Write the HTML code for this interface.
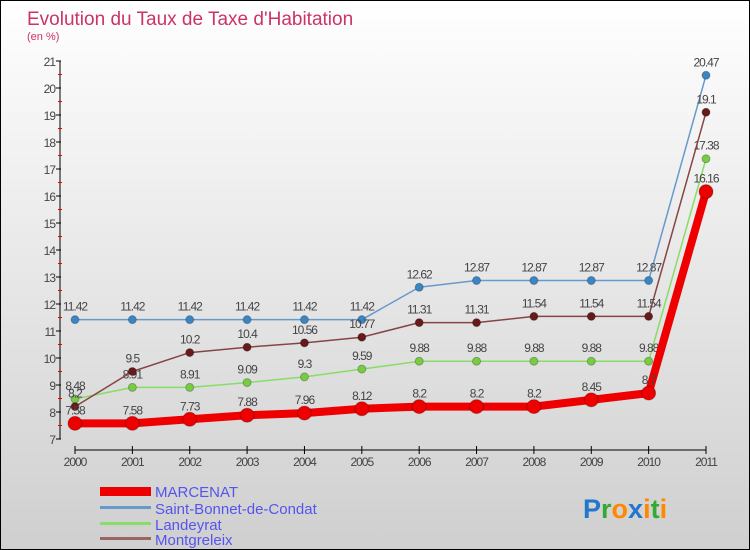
<!DOCTYPE html>
<html><head><meta charset="utf-8"><style>
body{margin:0;}
svg{display:block;font-family:"Liberation Sans",sans-serif;}
</style></head><body>
<svg width="750" height="550" xmlns="http://www.w3.org/2000/svg">
<defs><linearGradient id="bg" x1="0" y1="0" x2="0" y2="1"><stop offset="0" stop-color="#ffffff"/><stop offset="1" stop-color="#cfcfcf"/></linearGradient></defs>
<rect x="0.5" y="0.5" width="749" height="549" fill="url(#bg)" stroke="#000"/>
<text x="27" y="25" font-size="19" fill="#cc3366">Evolution du Taux de Taxe d'Habitation</text>
<text x="27" y="40" font-size="11" fill="#cc3366">(en %)</text>
<g id="axes"></g>
<g id="series"></g>
<g>
<rect x="100" y="487" width="51" height="9" fill="#ee0000"/>
<text x="155" y="497" font-size="15" fill="#5555ee">MARCENAT</text>
<rect x="100" y="506" width="51" height="3" fill="#6699cc"/>
<text x="155" y="514" font-size="15" fill="#5555ee">Saint-Bonnet-de-Condat</text>
<rect x="100" y="522" width="51" height="3" fill="#88dd66"/>
<text x="155" y="530" font-size="15" fill="#5555ee">Landeyrat</text>
<rect x="100" y="537" width="51" height="3" fill="#996666"/>
<text x="155" y="545" font-size="15" fill="#5555ee">Montgreleix</text>
</g>
<text x="583" y="518" font-size="27" font-weight="bold"><tspan fill="#2277cc">P</tspan><tspan fill="#33aa33">r</tspan><tspan fill="#ff8800">o</tspan><tspan fill="#2277cc">x</tspan><tspan fill="#ff8800">i</tspan><tspan fill="#33aa33">t</tspan><tspan fill="#ff8800">i</tspan></text>
</svg>
<script>
const years=[2000,2001,2002,2003,2004,2005,2006,2007,2008,2009,2010,2011];
const marcenat=[7.58,7.58,7.73,7.88,7.96,8.12,8.2,8.2,8.2,8.45,8.7,16.16];
const saintBonnet=[11.42,11.42,11.42,11.42,11.42,11.42,12.62,12.87,12.87,12.87,12.87,20.47];
const landeyrat=[8.48,8.91,8.91,9.09,9.3,9.59,9.88,9.88,9.88,9.88,9.88,17.38];
const montgreleix=[8.2,9.5,10.2,10.4,10.56,10.77,11.31,11.31,11.54,11.54,11.54,19.1];
const yTicks=[7,8,9,10,11,12,13,14,15,16,17,18,19,20,21];
const NS="http://www.w3.org/2000/svg";
const X=i=>75+i*(706-75)/11;
const Y=v=>439-(v-7)*27;
function mk(t,a,p){const e=document.createElementNS(NS,t);for(const k in a)e.setAttribute(k,a[k]);p.appendChild(e);return e;}
const ax=document.getElementById('axes');
const yl=mk('line',{x1:60,y1:Y(21),x2:60,y2:Y(7),stroke:'#000'},ax);


yTicks.forEach(v=>{
 const l=mk('line',{x1:56,y1:Y(v),x2:61,y2:Y(v),stroke:'#000'},ax);
 
 
 if(v<21){const m=mk('line',{x1:58,y1:Y(v+0.5),x2:62,y2:Y(v+0.5),stroke:'#ee0000'},ax);
 
 }
 const t=mk('text',{x:55,y:Y(v)+5,'font-size':12,'text-anchor':'end',fill:'#444','letter-spacing':'-1'},ax);
 t.textContent=v;
 
 
});
const xl=mk('line',{x1:X(0),y1:450,x2:X(11),y2:450,stroke:'#000'},ax);


years.forEach((y,i)=>{
 const l=mk('line',{x1:X(i),y1:446,x2:X(i),y2:454,stroke:'#000'},ax);
 
 
 const t=mk('text',{x:X(i),y:466,'font-size':12,'text-anchor':'middle',fill:'#444','letter-spacing':'-1'},ax);
 t.textContent=y;
 
 
});
const sg=document.getElementById('series');
function draw(vals,color,w,r,name,dot){
 const g=mk('g',{},sg);
 
 
 const p=mk('polyline',{points:vals.map((v,i)=>X(i)+','+Y(v)).join(' '),fill:'none',stroke:color,'stroke-width':w,'stroke-linejoin':'round'},g);
 
 
 vals.forEach((v,i)=>{
  const c=mk('circle',{cx:X(i),cy:Y(v),r:r,fill:dot,stroke:'rgba(0,0,0,0.25)','stroke-width':1},g);
  
  
  const t=mk('text',{x:X(i),y:Y(v)-9,'font-size':12,'text-anchor':'middle',fill:'#444','letter-spacing':'-1'},g);
  t.textContent=v;
  
  
 });
}
draw(saintBonnet,'#6699cc',1.5,4,'saint-bonnet','#3a85c4');
draw(landeyrat,'#88dd66',1.5,4,'landeyrat','#77cc44');
draw(montgreleix,'#884444',1.5,4,'montgreleix','#661a1a');
draw(marcenat,'#ee0000',8,7,'marcenat','#ee0000');
</script>
</body></html>
